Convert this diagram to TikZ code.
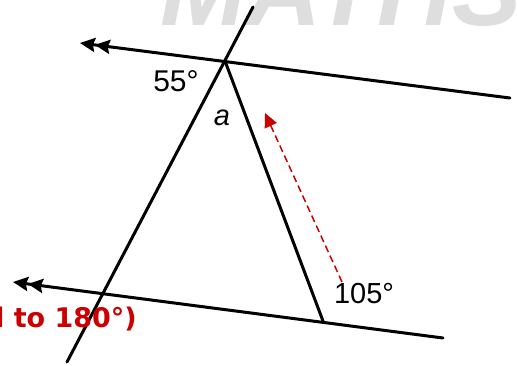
\documentclass[tikz,border=0pt]{standalone}
\usepackage{fontspec}
\setmainfont{Liberation Sans}
\newfontfamily\notefont{DejaVu Sans}
\usetikzlibrary{arrows.meta}
\definecolor{markred}{RGB}{204,0,0}
\definecolor{wmgray}{RGB}{222,222,222}
\tikzset{
  line/.style={line width=3pt, line cap=round},
  parallel/.style={line, {Stealth[inset=2pt,length=15pt,width=14pt]Stealth[inset=2pt,length=15pt,width=14pt]}-},
  angle label/.style={font=\fontsize{29}{32}\selectfont, inner sep=0pt},
  hint/.style={markred, line width=1.5pt, dash pattern=on 7pt off 4pt, -{Triangle[length=14pt,width=13pt]}}
}
\begin{document}
\begin{tikzpicture}[x=1pt,y=-1pt]
\useasboundingbox (0,0) rectangle (517,365);
\clip (0,0) rectangle (517,365);

% ======================= watermark behind everything ==================
\node[wmgray, anchor=base west, inner sep=0pt,
  font=\fontsize{104}{110}\selectfont\bfseries\itshape] (watermark) at (160,25) {MATHS};

% ======================= the two parallel lines =======================
\coordinate (top left) at (80,43);
\coordinate (top right) at (510,98);
\coordinate (bot left) at (13,282);
\coordinate (bot right) at (443,338);
\draw[parallel] (top left) -- (top right);
\draw[parallel] (bot left) -- (bot right);

% ======================= transversal and the second line ==============
\coordinate (trans top) at (253,7);
\coordinate (trans bot) at (67,362);
\coordinate (apex) at (225,61);
\coordinate (foot) at (323,321);
\draw[line] (trans top) -- (trans bot);
\draw[line] (apex) -- (foot);

% ======================= the hint arrow (co-interior angles) ==========
\coordinate (hint tail) at (342,282);
\coordinate (hint head) at (265,113);
\draw[hint] (hint tail) -- (hint head);

% ======================= labels =======================================
\node[angle label, font=\fontsize{30}{33}\selectfont] (ang55) at (176,81) {55°};
\node[angle label, font=\fontsize{29}{32}\selectfont\itshape] (anga) at (222,118) {a};
\node[angle label] (ang105) at (364,294) {105°};
\node[markred, anchor=base east, inner sep=0pt,
  font=\fontsize{27}{30}\notefont\bfseries] (note) at (137,327) {add to 180°)};

\end{tikzpicture}
\end{document}
